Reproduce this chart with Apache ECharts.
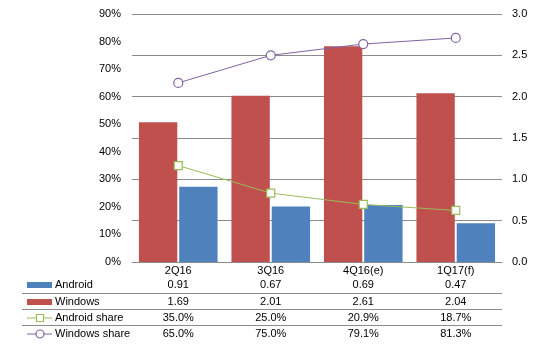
<!DOCTYPE html>
<html>
<head>
<meta charset="utf-8">
<script src="https://cdn.jsdelivr.net/npm/echarts@6/dist/echarts.min.js"></script>
<style>
  html, body { margin: 0; padding: 0; background: #fff; }
  #chart { width: 539px; height: 350px; }
</style>
</head>
<body>
<div id="chart"></div>
<script>
var categories = ['2Q16', '3Q16', '4Q16(e)', '1Q17(f)'];
var android = [0.91, 0.67, 0.69, 0.47];
var windows = [1.69, 2.01, 2.61, 2.04];
var androidShare = [35.0, 25.0, 20.9, 18.7];
var windowsShare = [65.0, 75.0, 79.1, 81.3];

var FONT = 'Liberation Sans, Arial, sans-serif';
var C_AND = '#4F81BD', C_WIN = '#C0504D', C_ASH = '#9BBB59', C_WSH = '#8064A2';
var GRID_COLOR = '#8c8c8c';

var myChart = echarts.init(document.getElementById('chart'));
var option = {
    animation: false,
    grid: { left: 132, right: 37, top: 14, bottom: 88 },
    xAxis: {
        type: 'category',
        data: categories,
        axisLine: { lineStyle: { color: GRID_COLOR } },
        axisTick: { show: false },
        axisLabel: { color: '#000', fontFamily: FONT, fontSize: 11, margin: 3 }
    },
    yAxis: [{
        type: 'value', min: 0, max: 90, interval: 10,
        axisLine: { show: false }, axisTick: { show: false },
        splitLine: { show: false },
        axisLabel: { formatter: '{value}%', color: '#000', fontFamily: FONT, fontSize: 11, margin: 11 }
    }, {
        type: 'value', min: 0, max: 3, interval: 0.5,
        axisLine: { show: false }, axisTick: { show: false },
        splitLine: { lineStyle: { color: GRID_COLOR } },
        axisLabel: {
            formatter: function (v) { return v.toFixed(1); },
            color: '#000', fontFamily: FONT, fontSize: 11, margin: 10
        }
    }],
    series: [{
        name: 'Windows', type: 'bar', yAxisIndex: 1, data: windows,
        itemStyle: { color: C_WIN }, barCategoryGap: '15%', barGap: '5%'
    }, {
        name: 'Android', type: 'bar', yAxisIndex: 1, data: android,
        itemStyle: { color: C_AND }
    }, {
        name: 'Android share', type: 'line', yAxisIndex: 0, data: androidShare,
        symbol: 'rect', symbolSize: 8,
        lineStyle: { color: C_ASH, width: 1 },
        itemStyle: { color: '#fff', borderColor: C_ASH, borderWidth: 1.2 }
    }, {
        name: 'Windows share', type: 'line', yAxisIndex: 0, data: windowsShare,
        symbol: 'circle', symbolSize: 9,
        lineStyle: { color: C_WSH, width: 1 },
        itemStyle: { color: '#fff', borderColor: C_WSH, borderWidth: 1.2 }
    }]
};
myChart.setOption(option);

// data table under the chart
var rows = [
    { name: 'Android', vals: android.map(function (v) { return v.toFixed(2); }), kind: 'bar', color: C_AND },
    { name: 'Windows', vals: windows.map(function (v) { return v.toFixed(2); }), kind: 'bar', color: C_WIN },
    { name: 'Android share', vals: androidShare.map(function (v) { return v.toFixed(1) + '%'; }), kind: 'line', sym: 'rect', color: C_ASH },
    { name: 'Windows share', vals: windowsShare.map(function (v) { return v.toFixed(1) + '%'; }), kind: 'line', sym: 'circle', color: C_WSH }
];
var rowY = [285, 302, 318, 334];
var sepY = [293.5, 309.5, 325.5];
var els = [];
rows.forEach(function (r, ri) {
    var y = rowY[ri];
    if (r.kind === 'bar') {
        els.push({ type: 'rect', shape: { x: 27, y: y - 3, width: 25, height: 6 }, style: { fill: r.color } });
    } else {
        els.push({ type: 'line', shape: { x1: 27, y1: y, x2: 52, y2: y }, style: { stroke: r.color, lineWidth: 1 } });
        if (r.sym === 'rect') {
            els.push({ type: 'rect', shape: { x: 36.5, y: y - 3.5, width: 7, height: 7 }, style: { fill: '#fff', stroke: r.color, lineWidth: 1.2 } });
        } else {
            els.push({ type: 'circle', shape: { cx: 40, cy: y, r: 4 }, style: { fill: '#fff', stroke: r.color, lineWidth: 1.2 } });
        }
    }
    els.push({ type: 'text', x: 55, y: y, style: { text: r.name, fill: '#000', font: '11px ' + FONT, verticalAlign: 'middle' } });
    r.vals.forEach(function (t, i) {
        var cx = myChart.convertToPixel({ xAxisIndex: 0 }, categories[i]);
        els.push({ type: 'text', x: cx, y: y, style: { text: t, fill: '#000', font: '11px ' + FONT, align: 'center', verticalAlign: 'middle' } });
    });
});
sepY.forEach(function (y) {
    els.push({ type: 'line', shape: { x1: 22, y1: y, x2: 502, y2: y }, style: { stroke: GRID_COLOR, lineWidth: 1 } });
});
myChart.setOption({ graphic: { elements: els } });
</script>
</body>
</html>
